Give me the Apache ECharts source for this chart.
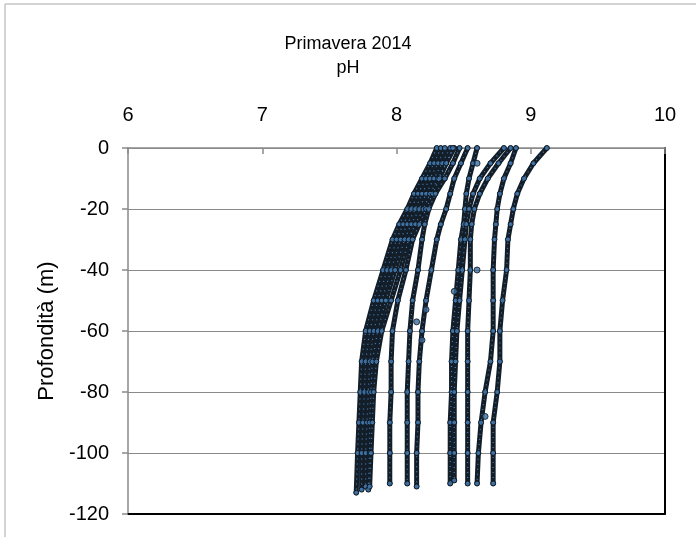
<!DOCTYPE html>
<html><head><meta charset="utf-8">
<script src="https://cdn.jsdelivr.net/npm/echarts@6/dist/echarts.min.js"></script>
<style>html,body{margin:0;padding:0;background:#fff}#c{width:696px;height:537px}</style>
</head><body><div id="c"></div>
<script>
const depths = [0,-5,-10,-15,-20,-25,-30,-40,-50,-60,-70,-80,-90,-100,-110];
const xTicks = [6,7,8,9,10];
const yTicks = [0,-20,-40,-60,-80,-100,-120];
const p1  = [8.30,8.25,8.19,8.13,8.08,8.02,7.97,7.90,7.83,7.77,7.74,7.73,7.72,7.71,7.70];
const p2  = [8.33,8.28,8.22,8.16,8.11,8.05,8.00,7.93,7.86,7.80,7.77,7.76,7.75,7.74,7.74];
const p3  = [8.36,8.31,8.25,8.19,8.14,8.08,8.03,7.96,7.89,7.83,7.80,7.79,7.78,7.77,7.77];
const p4  = [8.40,8.34,8.28,8.22,8.17,8.11,8.06,7.99,7.92,7.86,7.82,7.81,7.80,7.80,7.79];
const p5  = [8.43,8.37,8.31,8.25,8.20,8.14,8.09,8.03,7.96,7.89,7.85,7.83,7.82,7.81,7.80];
const p6  = [8.42,8.37,8.32,8.27,8.22,8.17,8.12,8.07,8.01,7.97,7.96,7.96,7.95,7.95,7.95];
const p7  = [8.47,8.42,8.36,8.29,8.24,8.21,8.19,8.16,8.12,8.10,8.09,8.08,8.08,8.08,8.08];
const p8  = [8.53,8.48,8.43,8.40,8.37,8.33,8.30,8.26,8.22,8.19,8.17,8.16,8.16,8.15,8.15];
const p9  = [8.60,8.57,8.54,8.52,8.51,8.50,8.48,8.46,8.44,8.42,8.41,8.41,8.40,8.40,8.40];
const p10 = [8.80,8.70,8.62,8.57,8.54,8.52,8.51,8.49,8.47,8.45,8.44,8.43,8.43,8.43,8.43];
const p11 = [8.85,8.76,8.68,8.62,8.58,8.56,8.55,8.55,8.54,8.53,8.53,8.53,8.53,8.53,8.53];
const p12 = [8.89,8.85,8.80,8.77,8.75,8.74,8.73,8.72,8.72,8.72,8.70,8.66,8.63,8.61,8.60];
const p13 = [9.12,9.02,8.95,8.90,8.87,8.85,8.83,8.82,8.79,8.77,8.77,8.75,8.72,8.72,8.72];
const profiles = [p1,p2,p3,p4,p5,p6,p7,p8,p9,p10,p11,p12,p13];
const bottoms = [-113,-112,-111,-112,-111,-110,-110,-111,-110,-109,-110,-110,-110];
const strayPH = [8.15,8.19,8.22,8.43,8.60,8.60,8.66];
const strayDepth = [-57,-63,-53,-47,-40,-5,-88];

const FONT = '"Liberation Sans",Arial,sans-serif';
const series = [];
profiles.forEach((p, i) => {
  const data = p.map((v, k) => [v, k === p.length - 1 ? bottoms[i] : depths[k]]);
  series.push({type:'line', data, symbol:'circle', symbolSize:5,
    lineStyle:{color:'#131e29', width:5, cap:'round', join:'round'},
    itemStyle:{color:'#3d6d9c', borderColor:'#0d1620', borderWidth:1}, z:3, silent:true});
  series.push({type:'line', data, symbol:'none',
    lineStyle:{color:'#4a80b8', width:1.2, type:[1,4]}, z:4, silent:true});
});
series.push({type:'scatter', data: strayPH.map((v,k)=>[v, strayDepth[k]]), symbol:'circle', symbolSize:6,
  itemStyle:{color:'#3d6d9c', borderColor:'#0d1620', borderWidth:1}, z:5, silent:true});

const chart = echarts.init(document.getElementById('c'), null, {renderer:'canvas'});
chart.setOption({
  animation:false,
  title:{text:'Primavera 2014\npH', left:'center', top:27,
    textStyle:{fontFamily:FONT, fontSize:18, fontWeight:'normal', color:'#000', lineHeight:24}},
  grid:{left:128, top:148, right:31, bottom:23},
  xAxis:[{type:'value', position:'top', min:xTicks[0], max:xTicks[xTicks.length-1], interval:1,
    axisLine:{show:true, lineStyle:{color:'#8a8a8a', width:1.5}},
    axisTick:{show:true, inside:true, length:6, lineStyle:{color:'#8a8a8a', width:1.5}},
    axisLabel:{fontFamily:FONT, fontSize:20, color:'#000', margin:23},
    splitLine:{show:false}},
   {type:'value', position:'bottom', min:xTicks[0], max:xTicks[xTicks.length-1], interval:1,
    axisLine:{show:true, onZero:false, lineStyle:{color:'#000', width:2}},
    axisTick:{show:false}, axisLabel:{show:false}, splitLine:{show:false}}],
  yAxis:[{type:'value', min:yTicks[yTicks.length-1], max:yTicks[0], interval:20,
    name:'Profondità (m)', nameLocation:'middle', nameGap:63, nameRotate:90,
    nameTextStyle:{fontFamily:FONT, fontSize:22, color:'#000'},
    axisLine:{show:true, onZero:false, lineStyle:{color:'#8a8a8a', width:1.5}},
    axisTick:{show:true, length:6, lineStyle:{color:'#8a8a8a', width:1.5}},
    axisLabel:{fontFamily:FONT, fontSize:20, color:'#000', margin:19},
    splitLine:{show:true, lineStyle:{color:'#8a8a8a', width:1.2}}},
   {type:'value', position:'right', min:yTicks[yTicks.length-1], max:yTicks[0], interval:20,
    axisLine:{show:true, onZero:false, lineStyle:{color:'#000', width:2}},
    axisTick:{show:false}, axisLabel:{show:false}, splitLine:{show:false}}],
  graphic:[
    {type:'line', shape:{x1:5, y1:4, x2:696, y2:4}, style:{stroke:'#c4c4c4', lineWidth:1.5}},
    {type:'line', shape:{x1:5, y1:4, x2:5, y2:537}, style:{stroke:'#c4c4c4', lineWidth:1.5}}
  ],
  series
});
</script></body></html>
